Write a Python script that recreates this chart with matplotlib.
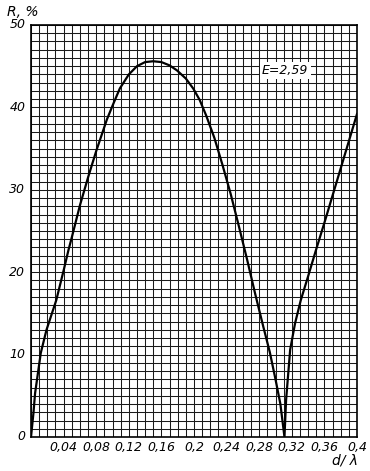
import matplotlib
matplotlib.use("Agg")
import matplotlib.pyplot as plt
import numpy as np

# data
d_vals = [0.0, 0.003, 0.005, 0.009, 0.012, 0.019, 0.023, 0.031, 0.04, 0.046, 0.05, 0.06,
          0.07, 0.08, 0.093, 0.10, 0.109, 0.12, 0.13, 0.14, 0.15, 0.16, 0.17, 0.179,
          0.19, 0.199, 0.207, 0.215, 0.225, 0.235, 0.245, 0.255, 0.265, 0.275, 0.285,
          0.293, 0.300, 0.306, 0.311, 0.313, 0.318, 0.324, 0.331, 0.34, 0.35, 0.36,
          0.37, 0.38, 0.39, 0.40]
R_vals = [0.0, 2.9, 5.3, 8.1, 10.2, 13.0, 14.2, 16.6, 20.2, 22.7, 24.2, 28.1,
          31.5, 34.7, 38.5, 40.2, 42.3, 44.0, 45.0, 45.5, 45.6, 45.5, 45.1, 44.5,
          43.5, 42.3, 40.9, 39.0, 36.3, 33.0, 29.5, 25.6, 21.6, 17.4, 13.4,
          10.3, 7.0, 4.0, 0.0, 4.5, 10.6, 13.8, 16.6, 19.5, 22.8, 26.0,
          29.3, 32.6, 35.9, 39.2]

x_ticks = [0.04, 0.08, 0.12, 0.16, 0.2, 0.24, 0.28, 0.32, 0.36, 0.4]
x_labels = ["0,04", "0,08", "0,12", "0,16", "0,2", "0,24", "0,28", "0,32", "0,36", "0,4"]
y_ticks = [0, 10, 20, 30, 40, 50]
y_labels = ["0", "10", "20", "30", "40", "50"]

fig = plt.figure(figsize=(3.70, 4.71), dpi=100)
ax = fig.add_axes([31/370, 34/471, 326/370, 412/471])
ax.set_xlim(0, 0.4)
ax.set_ylim(0, 50)

# grid
for xv in np.arange(0, 0.4001, 0.01):
    ax.axvline(xv, color="#1a1a1a", lw=0.75, zorder=1)
for yv in np.arange(0, 50.01, 1):
    ax.axhline(yv, color="#1a1a1a", lw=0.75, zorder=1)

ax.plot(d_vals, R_vals, color="black", lw=1.6, zorder=3, solid_joinstyle="round")

for s in ax.spines.values():
    s.set_linewidth(1.2)

ax.set_xticks([])
ax.set_yticks([])
font = dict(family="DejaVu Sans", style="italic", fontsize=9)
for xv, lab in zip(x_ticks, x_labels):
    ax.annotate(lab, xy=(xv, 0), xytext=(0, -3), textcoords="offset points",
                ha="center", va="top", **font)
for yv, lab in zip(y_ticks, y_labels):
    ax.annotate(lab, xy=(0, yv), xytext=(-4, 0), textcoords="offset points",
                ha="right", va="center", **font)

fig.text(7/370, 1 - 12/471, "R, %", ha="left", va="center",
         family="DejaVu Sans", style="italic", fontsize=10)
fig.text(358/370, 1 - 461/471, "d/ λ", ha="right", va="center",
         family="DejaVu Sans", style="italic", fontsize=10)
ax.text(0.312, 44.5, "E=2,59", ha="center", va="center", zorder=4,
        bbox=dict(facecolor="white", edgecolor="none", pad=1.5),
        family="DejaVu Sans", style="italic", fontsize=9)

fig.savefig("out.png", dpi=100, facecolor="white")
